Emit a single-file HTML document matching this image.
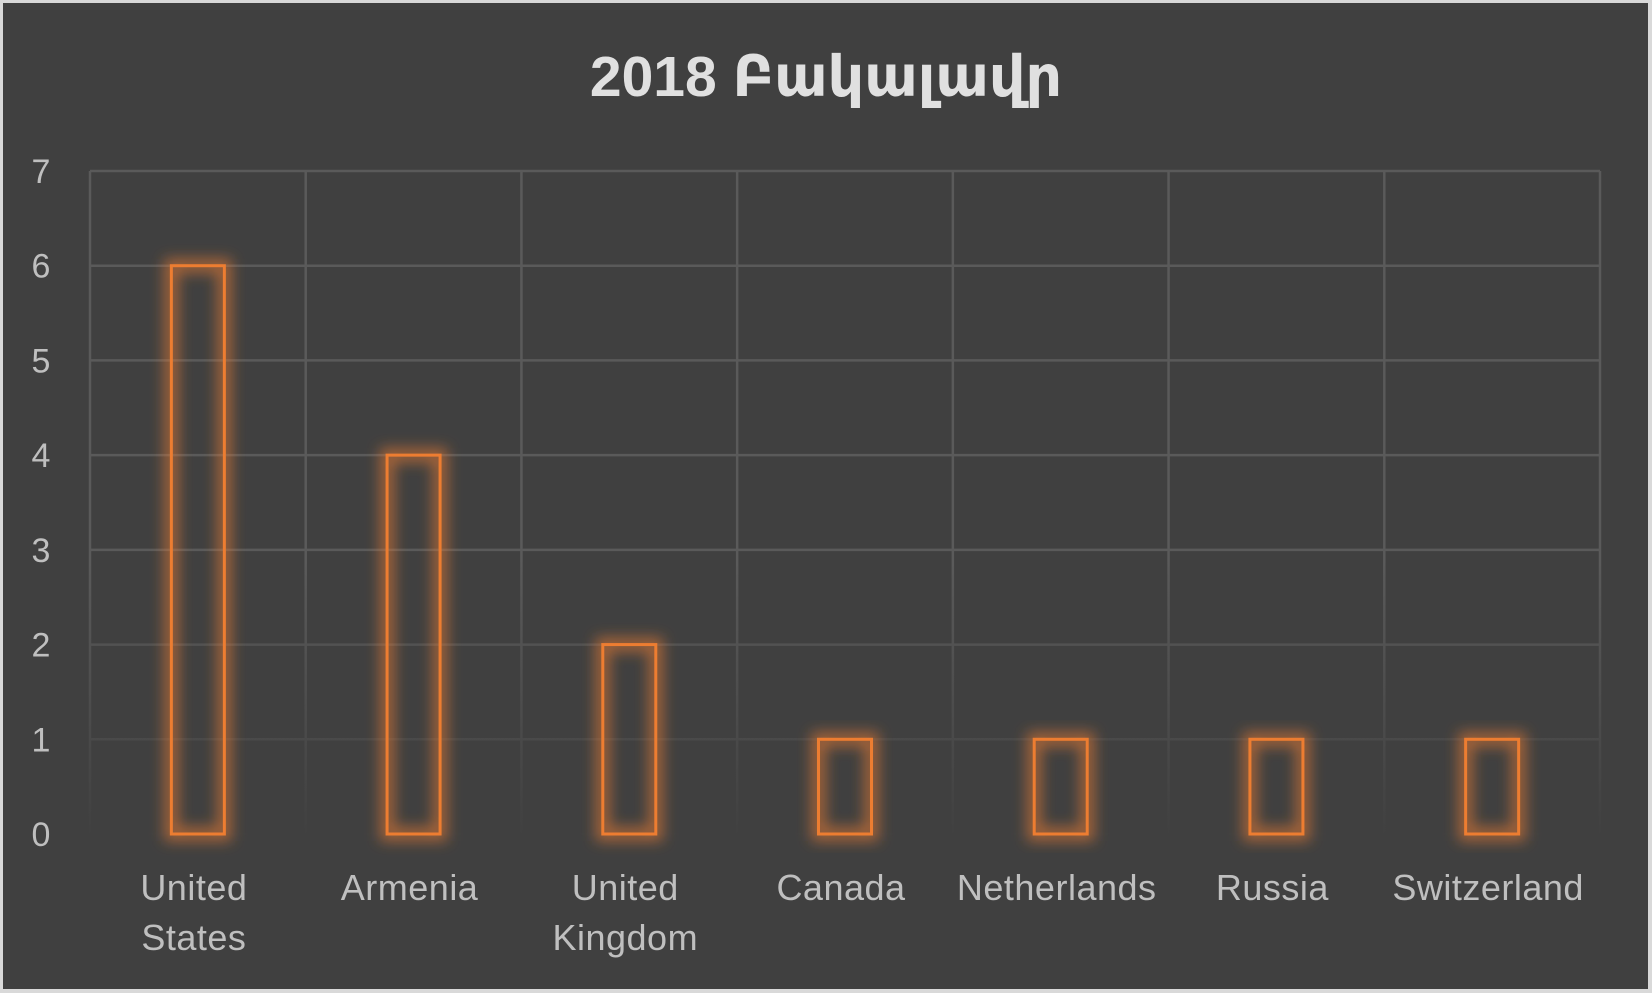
<!DOCTYPE html>
<html><head><meta charset="utf-8">
<style>
html,body{margin:0;padding:0;background:#d9d9d9;}
svg{display:block;}
text{font-family:"Liberation Sans","DejaVu Sans",sans-serif;}
</style></head>
<body>
<svg id="chart" width="1652" height="993" viewBox="0 0 1652 993">
  <defs>
    <filter id="glow" x="-50%" y="-20%" width="200%" height="140%">
      <feGaussianBlur stdDeviation="7"/>
    </filter>
    <linearGradient id="fade" x1="0" y1="0" x2="0" y2="1">
      <stop offset="0" stop-color="#404040" stop-opacity="0"/>
      <stop offset="1" stop-color="#404040" stop-opacity="1"/>
    </linearGradient>
  </defs>
  <rect x="0" y="0" width="1652" height="993" fill="#d9d9d9"/>
  <rect x="3" y="3" width="1645" height="986" fill="#404040"/>
  <text x="826" y="96" text-anchor="middle" font-size="57" font-weight="bold" fill="#e0e0e0">2018 Բակալավր</text>
  <g id="grid"></g>
  <rect x="88" y="560" width="1515" height="280" fill="url(#fade)"/>
  <g id="yticks"></g>
  <g id="bars"></g>
  <g id="xlabels"></g>
</svg>
<script>
const categories = [["United","States"],["Armenia"],["United","Kingdom"],["Canada"],["Netherlands"],["Russia"],["Switzerland"]];
const values = [6,4,2,1,1,1,1];
const yTicks = [0,1,2,3,4,5,6,7];

const NS = "http://www.w3.org/2000/svg";
const pLeft = 90, pRight = 1600, pTop = 171, pBottom = 834, yMax = 7;
const bw = (pRight - pLeft) / categories.length;
const yS = v => pBottom - (v / yMax) * (pBottom - pTop);
const xc = i => pLeft + bw * (i + 0.5);
function mk(tag, attrs, parent){const e=document.createElementNS(NS,tag);for(const k in attrs)e.setAttribute(k,attrs[k]);parent.appendChild(e);return e;}

const grid = document.getElementById('grid');
yTicks.forEach(t=>{
  const l = mk('line',{x1:pLeft,x2:pRight,y1:yS(t),y2:yS(t),stroke:'#5a5a5a','stroke-width':2.5},grid);
  
  
});
for(let i=0;i<=categories.length;i++){
  const x = pLeft + bw*i;
  const l = mk('line',{x1:x,x2:x,y1:pTop,y2:pBottom,stroke:'#5a5a5a','stroke-width':2.5},grid);
  
  
}
const yt = document.getElementById('yticks');
yTicks.forEach(t=>{
  const tx = mk('text',{x:41,y:yS(t)+12,'text-anchor':'middle','font-size':34,fill:'#bfbfbf'},yt);
  tx.textContent = t;
  
  
});
const bars = document.getElementById('bars');
const barW = 53;
values.forEach((v,i)=>{
  const x = xc(i)-barW/2, yy = yS(v), h = pBottom - yS(v);
  const g = mk('rect',{x:x,y:yy,width:barW,height:h,fill:'none',stroke:'#ed7d31','stroke-width':14,'stroke-opacity':0.6,filter:'url(#glow)'},bars);
  
  
  const r = mk('rect',{x:x,y:yy,width:barW,height:h,fill:'none',stroke:'#ed7d31','stroke-width':3},bars);
  
  
});
const xl = document.getElementById('xlabels');
categories.forEach((c,i)=>{
  c.forEach((line,j)=>{
    const tx = mk('text',{x:xc(i)-4,y:900+j*50,'text-anchor':'middle','font-size':36,fill:'#bfbfbf','letter-spacing':'0.5'},xl);
    tx.textContent = line;
    
    
  });
});
</script>
</body></html>
